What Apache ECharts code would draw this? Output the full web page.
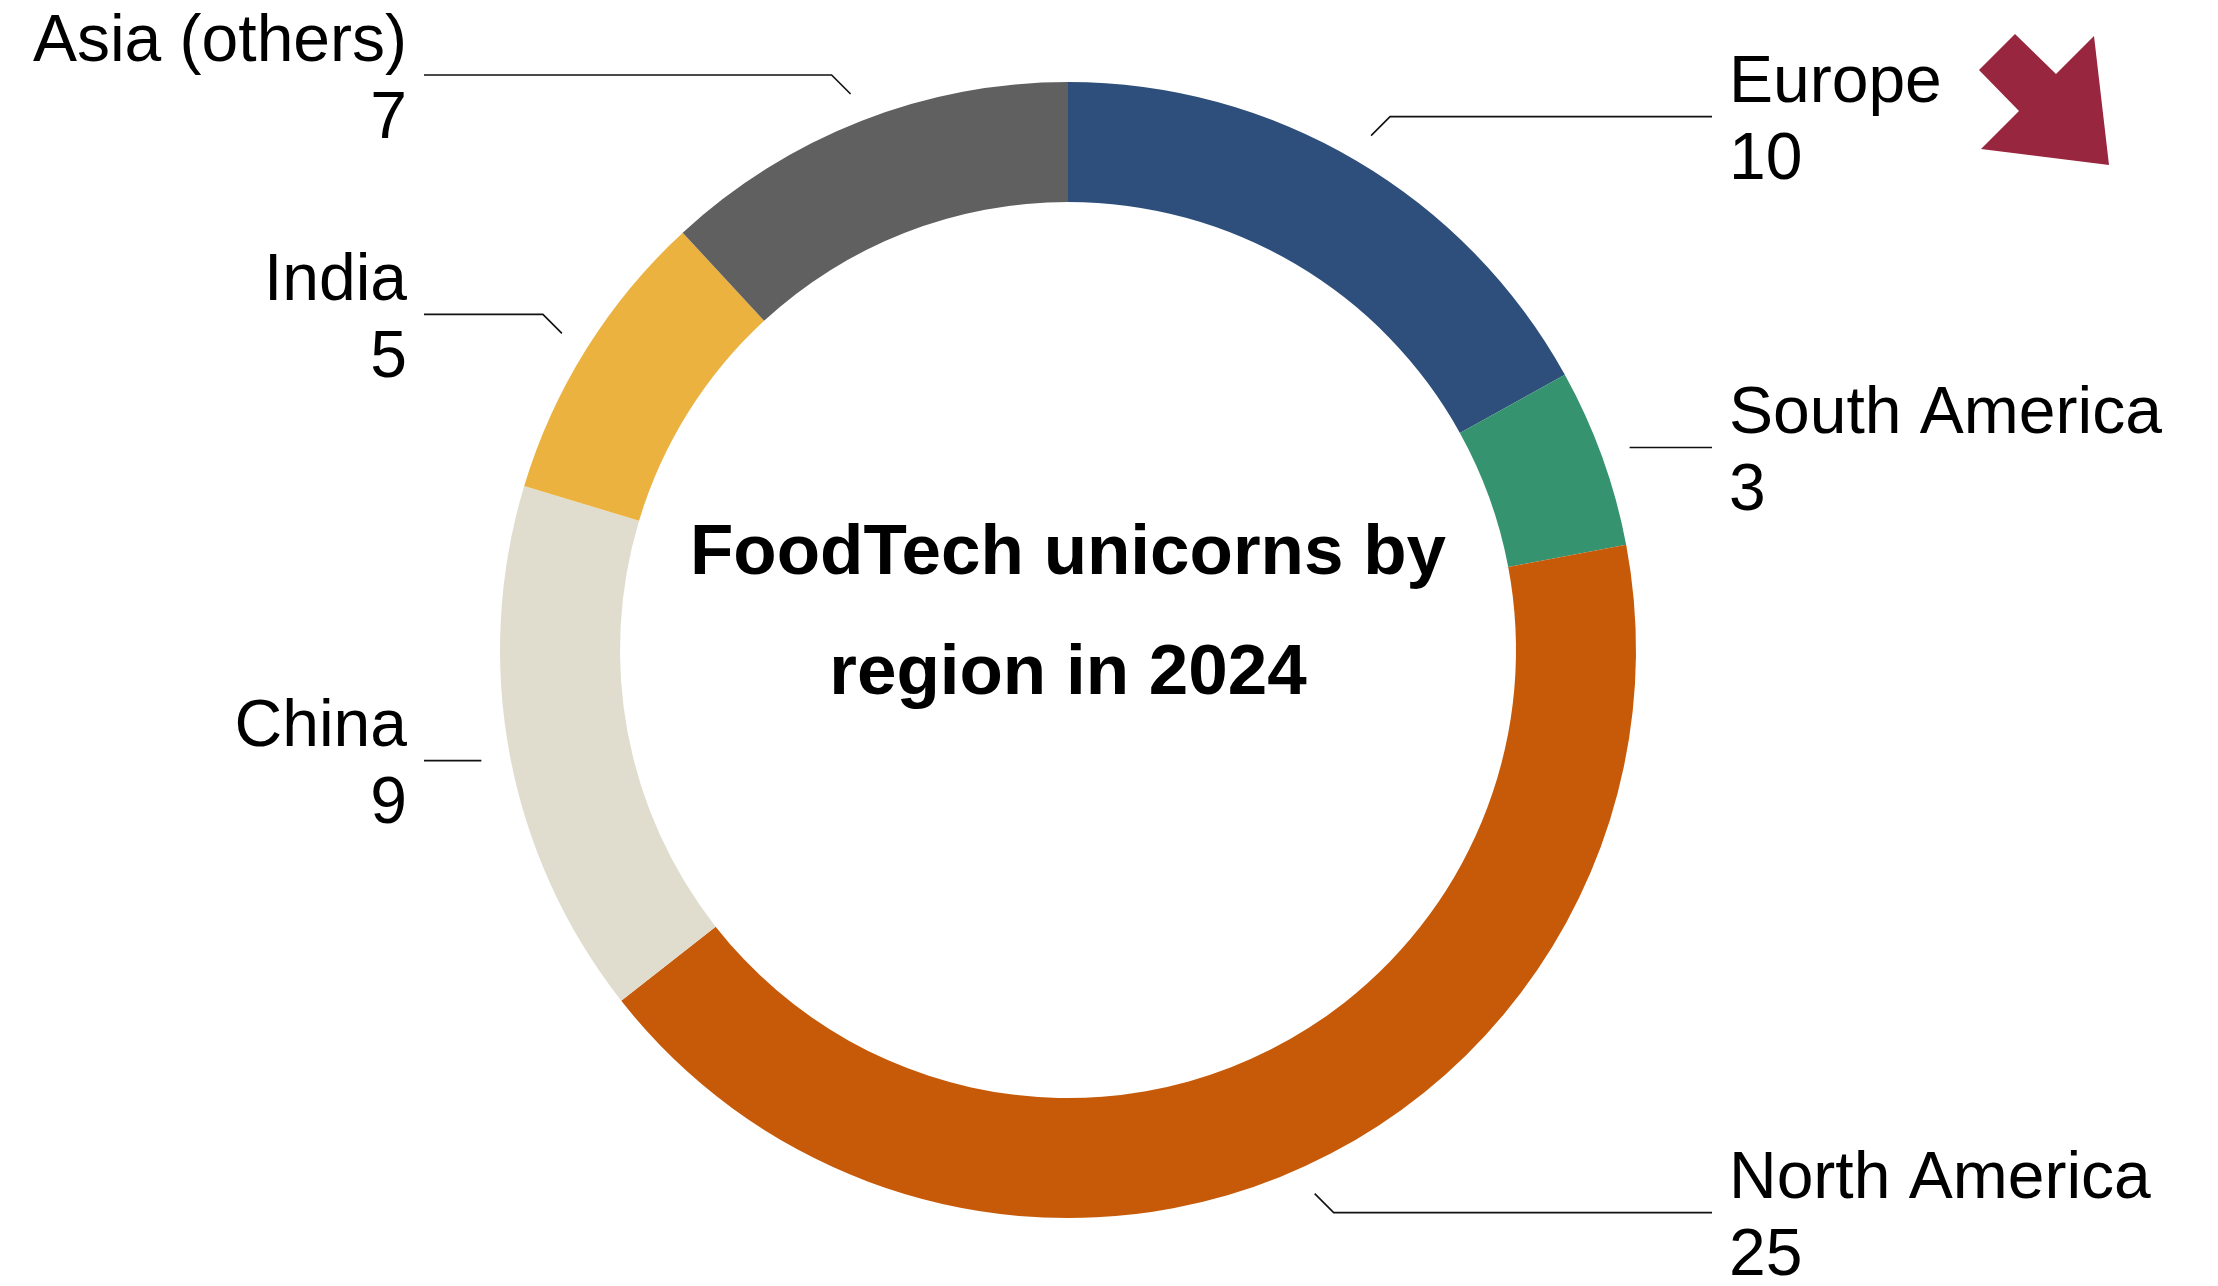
<!DOCTYPE html>
<html>
<head>
<meta charset="utf-8">
<style>
  html, body { margin: 0; padding: 0; background: #ffffff; }
  #chart { width: 2218px; height: 1286px; }
</style>
<script src="https://cdn.jsdelivr.net/npm/echarts@6/dist/echarts.min.js"></script>
</head>
<body>
<div id="chart"></div>
<script>
// FoodTech unicorns by region, 2024 (clockwise from 12 o'clock)
const regions = ['Europe', 'South America', 'North America', 'China', 'India', 'Asia (others)'];
const unicorns = [10, 3, 25, 9, 5, 7];
const sliceColors = ['#2e4f7c', '#35936f', '#c65a08', '#e0ddcf', '#ebb240', '#606060'];
const titleText = 'FoodTech unicorns by\nregion in 2024';

const CX = 1068, CY = 650;
const LABEL_RING = 597;     // radius where leader lines start
const LEADER_REACH = 644;   // horizontal distance from centre to the end of every leader line
const LABEL_GAP = 17;       // gap between leader line end and label text
const LABEL_DROP = 6;       // label block sits slightly below its leader line
const ELBOW = 19;           // size of the 45° elbow on steep leader lines
const FONT = '"Liberation Sans", Arial, Helvetica, sans-serif';

const ringData = regions.map((name, i) => ({
  name: name,
  value: unicorns[i],
  itemStyle: { color: sliceColors[i] }
}));

const labelData = regions.map((name, i) => ({ name: name, value: unicorns[i] }));

// leader lines: a 45° elbow when the slice sits well above/below the horizontal,
// then a horizontal run to a common column on each side
function leaderLayout(p) {
  const pts = p.labelLinePoints;
  if (!pts) return {};
  const p0 = pts[0];
  const left = p0[0] < CX;
  const sx = left ? -1 : 1;
  const vy = (p0[1] - CY) / LABEL_RING;
  const rise = Math.abs(vy) > 0.4 ? Math.sign(vy) * ELBOW : 0;
  const elbow = [p0[0] + sx * Math.abs(rise), p0[1] + rise];
  const endX = CX + sx * LEADER_REACH;
  return {
    x: endX + sx * LABEL_GAP,
    y: elbow[1] + LABEL_DROP,
    align: left ? 'right' : 'left',
    verticalAlign: 'middle',
    labelLinePoints: [p0, elbow, [endX, elbow[1]]]
  };
}

const chart = echarts.init(document.getElementById('chart'), null, { renderer: 'canvas' });

chart.setOption({
  backgroundColor: '#ffffff',
  animation: false,
  graphic: [
    {
      type: 'text',
      x: CX,
      y: 614,
      style: {
        text: titleText,
        align: 'center',
        verticalAlign: 'middle',
        fontFamily: FONT,
        fontWeight: 'bold',
        fontSize: 71,
        lineHeight: 120,
        fill: '#000000'
      }
    },
    {
      // downward trend arrow
      type: 'polygon',
      shape: {
        points: [[2015, 34], [2056, 74], [2094, 36], [2109, 165], [1981, 149], [2019, 111], [1979, 70]]
      },
      style: { fill: '#98263f' }
    }
  ],
  series: [
    {
      type: 'pie',
      center: [CX, CY],
      radius: [448, 568],
      startAngle: 90,
      clockwise: true,
      silent: true,
      label: { show: false },
      labelLine: { show: false },
      data: ringData
    },
    {
      // transparent ring just outside the donut that carries labels and leader lines
      type: 'pie',
      center: [CX, CY],
      radius: [LABEL_RING - 1, LABEL_RING],
      startAngle: 90,
      clockwise: true,
      silent: true,
      itemStyle: { color: 'rgba(0,0,0,0)' },
      label: {
        show: true,
        position: 'outside',
        formatter: '{b}\n{c}',
        fontFamily: FONT,
        fontSize: 66,
        lineHeight: 77,
        color: '#000000'
      },
      labelLine: {
        show: true,
        length: 20,
        length2: 30,
        smooth: false,
        lineStyle: { color: '#111111', width: 1.6 }
      },
      labelLayout: leaderLayout,
      data: labelData
    }
  ]
});
</script>
</body>
</html>
